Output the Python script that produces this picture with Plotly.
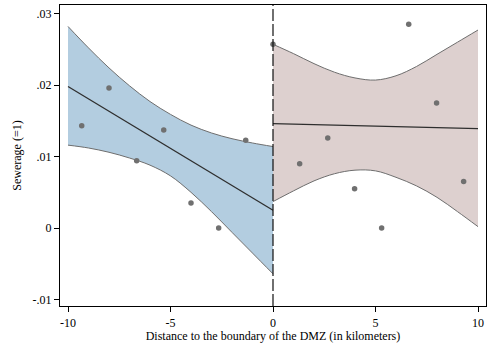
import plotly.graph_objects as go

# Binned means of the outcome by distance to the DMZ boundary
left_x = [-9.33, -8.0, -6.65, -5.33, -4.0, -2.65, -1.33]
left_y = [0.0143, 0.0196, 0.0094, 0.0137, 0.0035, 0.0000, 0.0123]
right_x = [0.0, 1.3, 2.67, 3.98, 5.3, 6.62, 7.98, 9.3]
right_y = [0.0257, 0.0090, 0.0126, 0.0055, 0.0000, 0.0285, 0.0175, 0.0065]

# Fitted lines and 95% confidence bands on each side of the cutoff
left_grid = [-10, -9, -8, -7, -6, -5, -4, -3, -2, -1, 0]
left_fit = [0.0198, 0.01807, 0.01634, 0.01461, 0.01288, 0.01115, 0.00942, 0.00769, 0.00596, 0.00423, 0.0025]
left_hi = [0.0282, 0.0252, 0.0224, 0.0199, 0.0177, 0.0159, 0.0144, 0.0133, 0.0125, 0.0119, 0.0114]
left_lo = [0.0116, 0.0112, 0.0106, 0.0098, 0.0088, 0.0073, 0.0050, 0.0023, -0.0006, -0.0035, -0.0064]

right_grid = [0, 1, 2, 3, 4, 5, 6, 7, 8, 9, 10]
right_fit = [0.0146, 0.01453, 0.01446, 0.01439, 0.01432, 0.01425, 0.01418, 0.01411, 0.01404, 0.01397, 0.0139]
right_hi = [0.0257, 0.0244, 0.0230, 0.0218, 0.0210, 0.0207, 0.0213, 0.0226, 0.0243, 0.0260, 0.0277]
right_lo = [0.0037, 0.0052, 0.0066, 0.0076, 0.0081, 0.0080, 0.0071, 0.0059, 0.0043, 0.0023, 0.0002]

x_ticks = [-10, -5, 0, 5, 10]
x_tick_text = ["-10", "-5", "0", "5", "10"]
y_ticks = [-0.01, 0, 0.01, 0.02, 0.03]
y_tick_text = ["-.01", "0", ".01", ".02", ".03"]

SERIF = "Liberation Serif, Times New Roman, serif"
BAND_EDGE = "#6e6e6e"
FIT_COLOR = "#2e2e2e"
DOT_COLOR = "#707070"

fig = go.Figure()


def add_band(grid, lo, hi, fit, fill_color):
    fig.add_trace(go.Scatter(x=grid, y=lo, mode="lines", line=dict(color=BAND_EDGE, width=1, shape="spline"),
                             showlegend=False, hoverinfo="skip"))
    fig.add_trace(go.Scatter(x=grid, y=hi, mode="lines", fill="tonexty", fillcolor=fill_color,
                             line=dict(color=BAND_EDGE, width=1, shape="spline"),
                             showlegend=False, hoverinfo="skip"))
    fig.add_trace(go.Scatter(x=grid, y=fit, mode="lines", line=dict(color=FIT_COLOR, width=1.3),
                             showlegend=False, hoverinfo="skip"))


add_band(left_grid, left_lo, left_hi, left_fit, "#b3cde0")
add_band(right_grid, right_lo, right_hi, right_fit, "#ddd0cf")

fig.add_trace(go.Scatter(x=left_x + right_x, y=left_y + right_y, mode="markers",
                         marker=dict(color=DOT_COLOR, size=5.5), showlegend=False))

# Cutoff at the boundary
fig.add_shape(type="line", x0=0, x1=0, y0=0, y1=1, xref="x", yref="paper",
              line=dict(color="#111111", width=1.2, dash="12px,3px"))

fig.update_layout(
    width=494, height=345,
    margin=dict(l=60, r=8, t=5, b=39),
    paper_bgcolor="white", plot_bgcolor="white",
    font=dict(family=SERIF, size=12, color="black"),
    xaxis=dict(range=[-10.39, 10.39], tickvals=x_ticks, ticktext=x_tick_text,
               showgrid=False, zeroline=False, showline=True, linecolor="black", linewidth=1.2,
               mirror=True, ticks="outside", ticklen=5, tickcolor="black",
               title=dict(text="Distance to the boundary of the DMZ (in kilometers)", standoff=2,
                          font=dict(size=12))),
    yaxis=dict(range=[-0.0109, 0.0312], tickvals=y_ticks, ticktext=y_tick_text,
               showgrid=False, zeroline=False, showline=True, linecolor="black", linewidth=1.2,
               mirror=True, ticks="outside", ticklen=5, tickcolor="black",
               title=dict(text="Sewerage (=1)", standoff=8, font=dict(size=12))),
)

fig.write_html("out.html")
